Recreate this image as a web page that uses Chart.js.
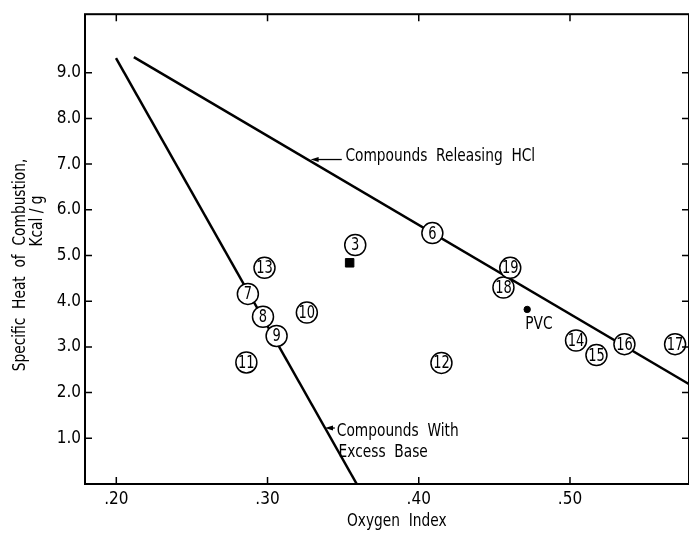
<!DOCTYPE html>
<html>
<head>
<meta charset="utf-8">
<script src="https://cdn.jsdelivr.net/npm/chart.js@4.4.1/dist/chart.umd.min.js"></script>
<style>
  html, body { margin: 0; padding: 0; background: #fff; overflow: hidden; }
  #wrap { width: 689px; height: 534px; }
</style>
</head>
<body>
<div id="wrap"><canvas id="chart" width="689" height="534"></canvas></div>
<script>
// compounds, circled numbers on the figure
const compoundIds = ['3', '6', '7', '8', '9', '10', '11', '12', '13', '14', '15', '16', '17', '18', '19'];
const oxygenIndex = [0.358, 0.409, 0.287, 0.297, 0.306, 0.326, 0.286, 0.415, 0.298, 0.504, 0.5175, 0.536, 0.5695, 0.456, 0.4605];
const heatValues = [5.23, 5.49, 4.16, 3.66, 3.24, 3.75, 2.66, 2.65, 4.73, 3.14, 2.82, 3.06, 3.06, 4.30, 4.73];

const pvcX = [0.4717];
const pvcY = [3.82];
const cmpd3X = [0.3543];
const cmpd3Y = [4.84];

// the two trend lines
const hclLineX = [0.2116, 0.58];
const hclLineY = [9.34, 2.16];
const baseLineX = [0.1998, 0.359];
const baseLineY = [9.32, 0];

const xTicks = [0.2, 0.3, 0.4, 0.5];
const yTicks = [1, 2, 3, 4, 5, 6, 7, 8, 9];

const FONT = '"DejaVu Sans Condensed", "Liberation Sans Narrow", sans-serif';

function pairs(xs, ys) {
  return xs.map((v, i) => ({ x: v, y: ys[i] }));
}

// narrow lettering like the original figure
function narrowText(ctx, text, x, y, size, align) {
  ctx.save();
  ctx.font = size + 'px ' + FONT;
  ctx.textBaseline = 'middle';
  ctx.textAlign = align || 'left';
  ctx.translate(x, y);
  ctx.scale(0.85, 1);
  ctx.fillText(text, 0, 0);
  ctx.restore();
}

const figureMarks = {
  id: 'figureMarks',
  afterDatasetsDraw(chart) {
    const { ctx, chartArea: a, scales } = chart;
    const sx = scales.x, sy = scales.y;
    ctx.save();
    ctx.strokeStyle = '#000';
    ctx.fillStyle = '#000';

    // frame (right side runs off the page like the scan)
    ctx.lineWidth = 2;
    ctx.strokeRect(a.left, a.top, a.right - a.left, a.bottom - a.top);

    // inward ticks on all sides
    ctx.lineWidth = 1.5;
    ctx.beginPath();
    xTicks.forEach(v => {
      const px = sx.getPixelForValue(v);
      ctx.moveTo(px, a.bottom); ctx.lineTo(px, a.bottom - 7);
      ctx.moveTo(px, a.top); ctx.lineTo(px, a.top + 7);
    });
    yTicks.forEach(v => {
      const py = sy.getPixelForValue(v);
      ctx.moveTo(a.left, py); ctx.lineTo(a.left + 7, py);
      ctx.moveTo(a.right, py); ctx.lineTo(a.right - 7, py);
    });
    ctx.stroke();

    // numbers inside circles
    const meta = chart.getDatasetMeta(0);
    meta.data.forEach((pt, i) => {
      narrowText(ctx, compoundIds[i], pt.x, pt.y + 1, 17, 'center');
    });

    // PVC label
    narrowText(ctx, 'PVC', sx.getPixelForValue(pvcX[0]) - 2, sy.getPixelForValue(pvcY[0]) + 15, 18);

    // annotation arrows
    function arrow(tipX, tipY, endX) {
      const x0 = sx.getPixelForValue(tipX), y0 = sy.getPixelForValue(tipY);
      const x1 = sx.getPixelForValue(endX);
      ctx.lineWidth = 1.3;
      ctx.beginPath();
      ctx.moveTo(x0 + 6, y0); ctx.lineTo(x1, y0);
      ctx.stroke();
      ctx.beginPath();
      ctx.moveTo(x0, y0);
      ctx.lineTo(x0 + 8, y0 - 2.5);
      ctx.lineTo(x0 + 8, y0 + 2.5);
      ctx.closePath();
      ctx.fill();
    }
    arrow(0.3285, 7.1, 0.3491);
    narrowText(ctx, 'Compounds  Releasing  HCl', sx.getPixelForValue(0.3515), sy.getPixelForValue(7.16), 18);

    arrow(0.338, 1.225, 0.3445);
    narrowText(ctx, 'Compounds  With', sx.getPixelForValue(0.3458), sy.getPixelForValue(1.16), 18);
    narrowText(ctx, 'Excess  Base', sx.getPixelForValue(0.347), sy.getPixelForValue(0.70), 18);

    // x axis title
    narrowText(ctx, 'Oxygen  Index', sx.getPixelForValue(0.3855), 521, 18, 'center');

    // y axis title, two lines
    ctx.save();
    ctx.translate(20, 265);
    ctx.rotate(-Math.PI / 2);
    narrowText(ctx, 'Specific  Heat  of  Combustion,', 0, 0, 18, 'center');
    ctx.restore();
    ctx.save();
    ctx.translate(37, 221);
    ctx.rotate(-Math.PI / 2);
    narrowText(ctx, 'Kcal / g', 0, 0, 18, 'center');
    ctx.restore();

    ctx.restore();
  }
};

new Chart(document.getElementById('chart'), {
  type: 'scatter',
  data: {
    datasets: [
      {
        label: 'compounds',
        data: pairs(oxygenIndex, heatValues),
        pointStyle: 'circle',
        pointRadius: 10.5,
        pointBackgroundColor: '#fff',
        pointBorderColor: '#000',
        pointBorderWidth: 1.5,
        order: 0
      },
      {
        label: 'compound 3',
        data: pairs(cmpd3X, cmpd3Y),
        pointStyle: 'rect',
        pointRadius: 6,
        pointBackgroundColor: '#000',
        pointBorderColor: '#000',
        order: 1
      },
      {
        label: 'PVC',
        data: pairs(pvcX, pvcY),
        pointRadius: 3.2,
        pointBackgroundColor: '#000',
        pointBorderColor: '#000',
        order: 1
      },
      {
        type: 'line',
        label: 'Compounds Releasing HCl',
        data: pairs(hclLineX, hclLineY),
        borderColor: '#000',
        borderWidth: 2.5,
        pointRadius: 0,
        order: 3
      },
      {
        type: 'line',
        label: 'Compounds With Excess Base',
        data: pairs(baseLineX, baseLineY),
        borderColor: '#000',
        borderWidth: 2.5,
        pointRadius: 0,
        order: 3
      }
    ]
  },
  options: {
    responsive: false,
    animation: false,
    events: [],
    layout: { autoPadding: false, padding: { left: 0, top: 14, right: -3, bottom: 0 } },
    plugins: { legend: { display: false }, tooltip: { enabled: false } },
    scales: {
      x: {
        type: 'linear',
        min: 0.1793,
        max: 0.5787,
        afterFit(scale) {
          scale.height = 50;
          scale.paddingLeft = 0;
          scale.paddingRight = -3;
        },
        afterBuildTicks(scale) { scale.ticks = xTicks.map(v => ({ value: v })); },
        grid: { display: false, drawTicks: false },
        border: { display: false },
        ticks: {
          color: '#000',
          padding: 5,
          font: { family: FONT, size: 17 },
          callback: v => v.toFixed(2).slice(1)
        }
      },
      y: {
        type: 'linear',
        min: 0,
        max: 10.28,
        afterFit(scale) {
          scale.width = 85;
          scale.paddingRight = -3;
        },
        afterBuildTicks(scale) { scale.ticks = yTicks.map(v => ({ value: v })); },
        grid: { display: false, drawTicks: false },
        border: { display: false },
        ticks: {
          color: '#000',
          padding: 4,
          font: { family: FONT, size: 17 },
          callback: v => v.toFixed(1)
        }
      }
    }
  },
  plugins: [figureMarks]
});
</script>
</body>
</html>
